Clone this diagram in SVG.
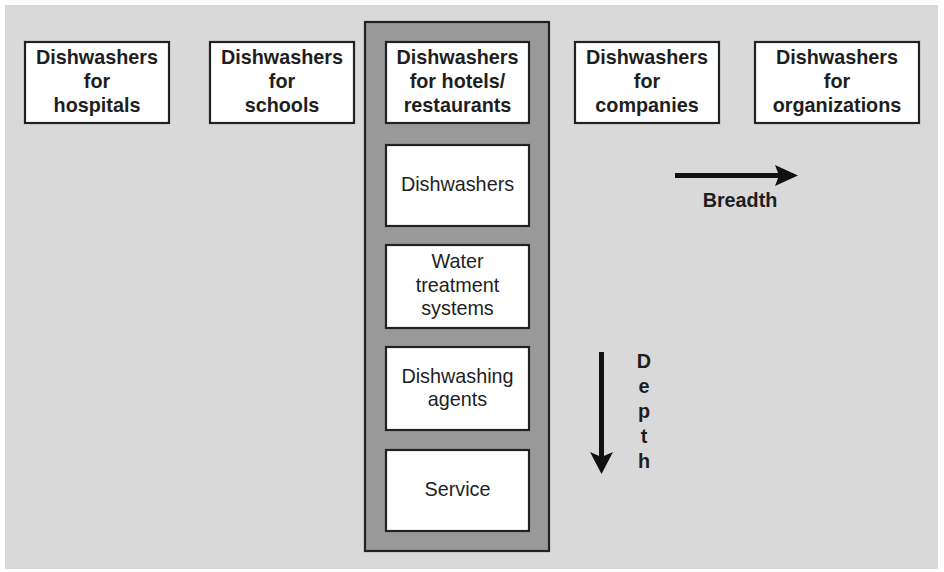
<svg xmlns="http://www.w3.org/2000/svg" width="944" height="572" viewBox="0 0 944 572">
<style>
.box{fill:#fff;stroke:#222;stroke-width:2.2}
.b{font-family:"Liberation Sans",Arial,sans-serif;font-weight:bold;font-size:19.8px;fill:#1e1e1e;text-anchor:middle}
.r{font-family:"Liberation Sans",Arial,sans-serif;font-size:19.8px;fill:#1e1e1e;text-anchor:middle}
</style>
<rect x="0" y="0" width="944" height="572" fill="#fff"/>
<rect x="5" y="5" width="933" height="564" fill="#d9d9d9"/>
<g id="column">
<rect x="365" y="22" width="184" height="529" fill="#999" stroke="#222" stroke-width="2.2"/>
</g>
<g id="hospitals"><rect class="box" x="25" y="42" width="144" height="81"/>
<text class="b" x="97" y="64">Dishwashers</text><text class="b" x="97" y="88">for</text><text class="b" x="97" y="112">hospitals</text></g>
<g id="schools"><rect class="box" x="210" y="42" width="144" height="81"/>
<text class="b" x="282" y="64">Dishwashers</text><text class="b" x="282" y="88">for</text><text class="b" x="282" y="112">schools</text></g>
<g id="hotels"><rect class="box" x="386" y="42" width="143" height="81"/>
<text class="b" x="457.5" y="64">Dishwashers</text><text class="b" x="457.5" y="88">for hotels/</text><text class="b" x="457.5" y="112">restaurants</text></g>
<g id="companies"><rect class="box" x="575" y="42" width="144" height="81"/>
<text class="b" x="647" y="64">Dishwashers</text><text class="b" x="647" y="88">for</text><text class="b" x="647" y="112">companies</text></g>
<g id="organizations"><rect class="box" x="755" y="42" width="164" height="81"/>
<text class="b" x="837" y="64">Dishwashers</text><text class="b" x="837" y="88">for</text><text class="b" x="837" y="112">organizations</text></g>
<g id="dishwashers"><rect class="box" x="386" y="145" width="143" height="81"/>
<text class="r" x="457.5" y="191">Dishwashers</text></g>
<g id="water"><rect class="box" x="386" y="245" width="143" height="83"/>
<text class="r" x="457.5" y="268">Water</text><text class="r" x="457.5" y="292">treatment</text><text class="r" x="457.5" y="315">systems</text></g>
<g id="agents"><rect class="box" x="386" y="347" width="143" height="83"/>
<text class="r" x="457.5" y="383">Dishwashing</text><text class="r" x="457.5" y="406">agents</text></g>
<g id="service"><rect class="box" x="386" y="450" width="143" height="81"/>
<text class="r" x="457.5" y="496">Service</text></g>
<g id="connectors">
<line x1="675" y1="175.5" x2="782" y2="175.5" stroke="#111" stroke-width="5"/>
<polygon points="798,175.5 775,165 779,175.5 775,186" fill="#111"/>
<line x1="601.5" y1="352" x2="601.5" y2="460" stroke="#111" stroke-width="5"/>
<polygon points="601.5,474 590,452 601.5,457 613,452" fill="#111"/>
</g>
<g id="breadth-label"><text class="b" x="740" y="207">Breadth</text></g>
<g id="depth-label">
<text class="b" x="644" y="368">D</text><text class="b" x="644" y="393">e</text><text class="b" x="644" y="418">p</text><text class="b" x="644" y="443">t</text><text class="b" x="644" y="468">h</text>
</g>
</svg>
